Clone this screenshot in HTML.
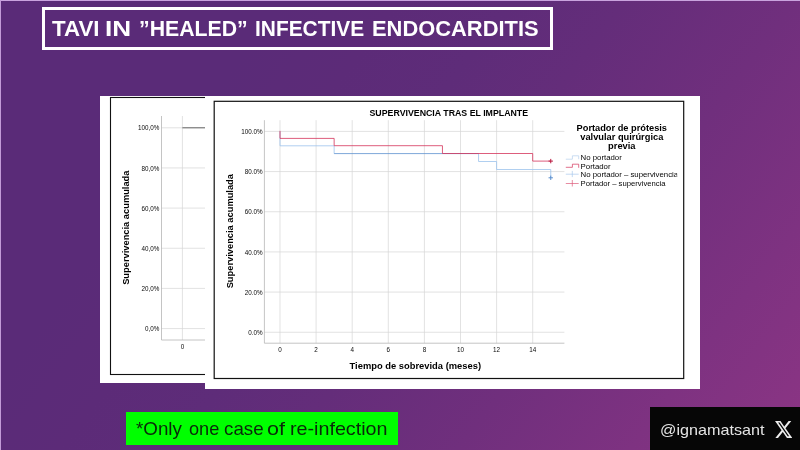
<!DOCTYPE html>
<html><head><meta charset="utf-8">
<style>
html,body{margin:0;padding:0;overflow:hidden;}
body{width:800px;height:450px;overflow:hidden;position:relative;font-family:"Liberation Sans",sans-serif;
background:linear-gradient(127deg,#5a2b78 0%,#5a2b78 25%,#5c2b78 35%,#5e2c79 45%,#642d7a 55%,#702f7d 70%,#7e3281 85%,#8c3584 100%);}
#wrap{position:absolute;left:0;top:0;width:800px;height:450px;will-change:transform;}
.edgeT{position:absolute;left:0;top:0;width:800px;height:1px;background:#c9a3de;}
.edgeL{position:absolute;left:0;top:0;width:1px;height:450px;background:#c39bd8;}
.title{position:absolute;left:41.6px;top:7.2px;width:505.7px;height:36.4px;border:3.2px solid #fff;box-sizing:content-box;}
.title span{position:absolute;left:7.2px;top:3.6px;font-weight:bold;font-size:22.7px;line-height:28px;color:#fff;white-space:nowrap;transform-origin:0 50%;display:inline-block;transform:scaleX(0.965);}
.tw{position:absolute;top:14px;font-weight:bold;font-size:22.7px;line-height:28px;color:#fff;white-space:nowrap;transform-origin:0 50%;display:inline-block;}
.gw{position:absolute;top:414.9px;font-size:18.2px;line-height:28px;color:#0a280a;white-space:nowrap;transform-origin:0 50%;display:inline-block;}
.p1{position:absolute;left:100px;top:96px;width:105px;height:286.5px;background:#fff;}
.p2{position:absolute;left:205px;top:96px;width:495px;height:292.6px;background:#fff;}
.green{position:absolute;left:126px;top:412px;width:272px;height:32.8px;background:#00ff00;}
.green span{position:absolute;left:10px;top:5.5px;font-size:18.2px;line-height:24px;color:#0a280a;white-space:nowrap;transform-origin:0 50%;display:inline-block;transform:scaleX(1.047);}
.handle{position:absolute;left:649.6px;top:407px;width:151px;height:43px;background:#060606;}
.handle span{position:absolute;left:10.32px;top:12px;font-size:15px;line-height:22px;color:#e4e4e4;white-space:nowrap;transform-origin:0 50%;display:inline-block;transform:scaleX(1.0771);}
.handle svg{position:absolute;left:125.1px;top:14.1px;}
svg.ov{position:absolute;left:0;top:0;}
svg text{font-family:"Liberation Sans",sans-serif;}
</style></head><body>
<div id="wrap"><div class="edgeT"></div><div class="edgeL"></div>
<div class="title"></div><span class="tw" style="left:52.00px;transform:scaleX(0.9840)">TAVI</span><span class="tw" style="left:104.60px;transform:scaleX(1.1500)">IN</span><span class="tw" style="left:139.38px;transform:scaleX(0.9375)">”HEALED”</span><span class="tw" style="left:254.58px;transform:scaleX(0.9209)">INFECTIVE</span><span class="tw" style="left:372.04px;transform:scaleX(0.9649)">ENDOCARDITIS</span>
<div class="p1"></div>
<div class="p2"></div>
<svg class="ov" width="800" height="450" viewBox="0 0 800 450">
<defs><clipPath id="c1"><rect x="100" y="96" width="105" height="286.5"/></clipPath><clipPath id="c2"><rect x="570" y="168" width="107.2" height="12"/></clipPath></defs>
<g clip-path="url(#c1)">
<rect x="110.5" y="97.5" width="300" height="277" fill="none" stroke="#111" stroke-width="1.1"/>
<line x1="161.5" x2="420" y1="127.8" y2="127.8" stroke="#d6d6d6" stroke-width="0.7"/>
<text x="159.3" y="130.4" font-size="6.3" text-anchor="end" fill="#0a0a0a">100,0%</text>
<line x1="161.5" x2="420" y1="167.95" y2="167.95" stroke="#d6d6d6" stroke-width="0.7"/>
<text x="159.3" y="170.55" font-size="6.3" text-anchor="end" fill="#0a0a0a">80,0%</text>
<line x1="161.5" x2="420" y1="208.1" y2="208.1" stroke="#d6d6d6" stroke-width="0.7"/>
<text x="159.3" y="210.7" font-size="6.3" text-anchor="end" fill="#0a0a0a">60,0%</text>
<line x1="161.5" x2="420" y1="248.25" y2="248.25" stroke="#d6d6d6" stroke-width="0.7"/>
<text x="159.3" y="250.85" font-size="6.3" text-anchor="end" fill="#0a0a0a">40,0%</text>
<line x1="161.5" x2="420" y1="288.4" y2="288.4" stroke="#d6d6d6" stroke-width="0.7"/>
<text x="159.3" y="291" font-size="6.3" text-anchor="end" fill="#0a0a0a">20,0%</text>
<line x1="161.5" x2="420" y1="328.55" y2="328.55" stroke="#d6d6d6" stroke-width="0.7"/>
<text x="159.3" y="331.15" font-size="6.3" text-anchor="end" fill="#0a0a0a">0,0%</text>
<line x1="182.4" x2="182.4" y1="116" y2="340" stroke="#d6d6d6" stroke-width="0.7"/>
<line x1="161.5" x2="161.5" y1="116" y2="340" stroke="#b0b0b0" stroke-width="0.75"/>
<line x1="161.5" x2="420" y1="340" y2="340" stroke="#b0b0b0" stroke-width="0.75"/>
<line x1="182.4" x2="260" y1="127.8" y2="127.8" stroke="#5a5a5a" stroke-width="0.9"/>
<text x="182.4" y="348.7" font-size="6.3" text-anchor="middle" fill="#0a0a0a">0</text>
<text transform="translate(128.9,227.7) rotate(-90)" font-size="9.3" font-weight="bold" text-anchor="middle" textLength="114.3" lengthAdjust="spacingAndGlyphs" fill="#000">Supervivencia acumulada</text>
</g>
<rect x="214.2" y="101.3" width="469.5" height="277.2" fill="none" stroke="#111" stroke-width="1.2"/>
<line x1="264.4" x2="564.4" y1="131.4" y2="131.4" stroke="#d6d6d6" stroke-width="0.7"/>
<text x="262.6" y="134" font-size="6.3" text-anchor="end" fill="#0a0a0a">100.0%</text>
<line x1="264.4" x2="564.4" y1="171.57" y2="171.57" stroke="#d6d6d6" stroke-width="0.7"/>
<text x="262.6" y="174.17" font-size="6.3" text-anchor="end" fill="#0a0a0a">80.0%</text>
<line x1="264.4" x2="564.4" y1="211.74" y2="211.74" stroke="#d6d6d6" stroke-width="0.7"/>
<text x="262.6" y="214.34" font-size="6.3" text-anchor="end" fill="#0a0a0a">60.0%</text>
<line x1="264.4" x2="564.4" y1="251.91" y2="251.91" stroke="#d6d6d6" stroke-width="0.7"/>
<text x="262.6" y="254.51" font-size="6.3" text-anchor="end" fill="#0a0a0a">40.0%</text>
<line x1="264.4" x2="564.4" y1="292.08" y2="292.08" stroke="#d6d6d6" stroke-width="0.7"/>
<text x="262.6" y="294.68" font-size="6.3" text-anchor="end" fill="#0a0a0a">20.0%</text>
<line x1="264.4" x2="564.4" y1="332.25" y2="332.25" stroke="#d6d6d6" stroke-width="0.7"/>
<text x="262.6" y="334.85" font-size="6.3" text-anchor="end" fill="#0a0a0a">0.0%</text>
<line x1="280" x2="280" y1="120.2" y2="343.2" stroke="#d6d6d6" stroke-width="0.7"/>
<text x="280" y="352.4" font-size="6.3" text-anchor="middle" fill="#0a0a0a">0</text>
<line x1="316.1" x2="316.1" y1="120.2" y2="343.2" stroke="#d6d6d6" stroke-width="0.7"/>
<text x="316.1" y="352.4" font-size="6.3" text-anchor="middle" fill="#0a0a0a">2</text>
<line x1="352.2" x2="352.2" y1="120.2" y2="343.2" stroke="#d6d6d6" stroke-width="0.7"/>
<text x="352.2" y="352.4" font-size="6.3" text-anchor="middle" fill="#0a0a0a">4</text>
<line x1="388.3" x2="388.3" y1="120.2" y2="343.2" stroke="#d6d6d6" stroke-width="0.7"/>
<text x="388.3" y="352.4" font-size="6.3" text-anchor="middle" fill="#0a0a0a">6</text>
<line x1="424.4" x2="424.4" y1="120.2" y2="343.2" stroke="#d6d6d6" stroke-width="0.7"/>
<text x="424.4" y="352.4" font-size="6.3" text-anchor="middle" fill="#0a0a0a">8</text>
<line x1="460.5" x2="460.5" y1="120.2" y2="343.2" stroke="#d6d6d6" stroke-width="0.7"/>
<text x="460.5" y="352.4" font-size="6.3" text-anchor="middle" fill="#0a0a0a">10</text>
<line x1="496.6" x2="496.6" y1="120.2" y2="343.2" stroke="#d6d6d6" stroke-width="0.7"/>
<text x="496.6" y="352.4" font-size="6.3" text-anchor="middle" fill="#0a0a0a">12</text>
<line x1="532.7" x2="532.7" y1="120.2" y2="343.2" stroke="#d6d6d6" stroke-width="0.7"/>
<text x="532.7" y="352.4" font-size="6.3" text-anchor="middle" fill="#0a0a0a">14</text>
<line x1="264.4" x2="264.4" y1="120.2" y2="343.2" stroke="#b0b0b0" stroke-width="0.75"/>
<line x1="264.4" x2="564.4" y1="343.2" y2="343.2" stroke="#b0b0b0" stroke-width="0.75"/>
<path d="M280,131.4 V145.8 H334.15 V153.6" fill="none" stroke="#9cc3ec" stroke-width="0.8"/>
<path d="M334.15,153.6 H478.55" fill="none" stroke="#5b8fce" stroke-width="0.8"/>
<path d="M478.55,153.6 V161.5 H496.6 V169.5 H550.75 V177.8" fill="none" stroke="#9cc3ec" stroke-width="0.8"/>
<path d="M280,130.9 V138.4 H334.15 V145.7 H442.45 V153.5 H532.7 V161.1 H550.75" fill="none" stroke="#d4345a" stroke-width="0.8"/>
<path d="M548.55,177.8 H552.95 M550.75,175.6 V180" stroke="#5b8fce" stroke-width="1" fill="none"/>
<path d="M548.55,161.1 H552.95 M550.75,158.9 V163.3" stroke="#b8183f" stroke-width="1" fill="none"/>
<text x="448.8" y="116.4" font-size="8.6" font-weight="bold" text-anchor="middle" textLength="158.6" lengthAdjust="spacingAndGlyphs" fill="#000">SUPERVIVENCIA TRAS EL IMPLANTE</text>
<text x="415.3" y="368.9" font-size="9.2" font-weight="bold" text-anchor="middle" textLength="131.5" lengthAdjust="spacingAndGlyphs" fill="#000">Tiempo de sobrevida (meses)</text>
<text transform="translate(232.6,231.2) rotate(-90)" font-size="9.1" font-weight="bold" text-anchor="middle" textLength="114.3" lengthAdjust="spacingAndGlyphs" fill="#000">Supervivencia acumulada</text>
<text x="621.8" y="131.2" font-size="9.2" font-weight="bold" text-anchor="middle" textLength="90.4" lengthAdjust="spacingAndGlyphs" fill="#000">Portador de prótesis</text>
<text x="621.8" y="140" font-size="9.2" font-weight="bold" text-anchor="middle" textLength="83" lengthAdjust="spacingAndGlyphs" fill="#000">valvular quirúrgica</text>
<text x="621.8" y="148.8" font-size="9.2" font-weight="bold" text-anchor="middle" textLength="27.5" lengthAdjust="spacingAndGlyphs" fill="#000">previa</text>
<text x="580.6" y="159.7" font-size="7.8" fill="#050505">No portador</text>
<text x="580.6" y="168.5" font-size="7.8" fill="#050505">Portador</text>
<text x="580.6" y="177.3" font-size="7.8" fill="#050505" clip-path="url(#c2)">No portador – supervivencia</text>
<text x="580.6" y="186.1" font-size="7.8" fill="#050505" textLength="85" lengthAdjust="spacingAndGlyphs">Portador – supervivencia</text>
<path d="M565.8,159.2 H572.4 V155.8 H578.7 V159.2" fill="none" stroke="#b4d0ee" stroke-width="0.7"/>
<path d="M565.8,167.3 H572.4 V164.2 H578.7 V167.8" fill="none" stroke="#d4345a" stroke-width="0.7"/>
<path d="M565.8,174.2 H578.7 M572.3,170.9 V177.1" fill="none" stroke="#a9c9ec" stroke-width="0.7"/>
<path d="M565.8,183.5 H578.7 M572.3,180 V186.5" fill="none" stroke="#dc5a7a" stroke-width="0.7"/>
</svg>
<div class="green"></div><span class="gw" style="left:136.10px;transform:scaleX(1.0311)">*Only</span><span class="gw" style="left:188.50px;transform:scaleX(0.9966)">one</span><span class="gw" style="left:224.37px;transform:scaleX(1.0324)">case</span><span class="gw" style="left:267.02px;transform:scaleX(1.1821)">of</span><span class="gw" style="left:289.82px;transform:scaleX(1.0835)">re-infection</span>
<div class="handle"><span id="t3">@ignamatsant</span>
<svg width="17.3" height="16.9" viewBox="1.254 2.25 21.573 19.5" preserveAspectRatio="none"><path fill="#ececec" d="M18.244 2.25h3.308l-7.227 8.26 8.502 11.24H16.17l-5.214-6.817L4.99 21.75H1.68l7.73-8.835L1.254 2.25H8.08l4.713 6.231zm-1.161 17.52h1.833L7.084 4.126H5.117z"/></svg>
</div>
</div>
</body></html>
